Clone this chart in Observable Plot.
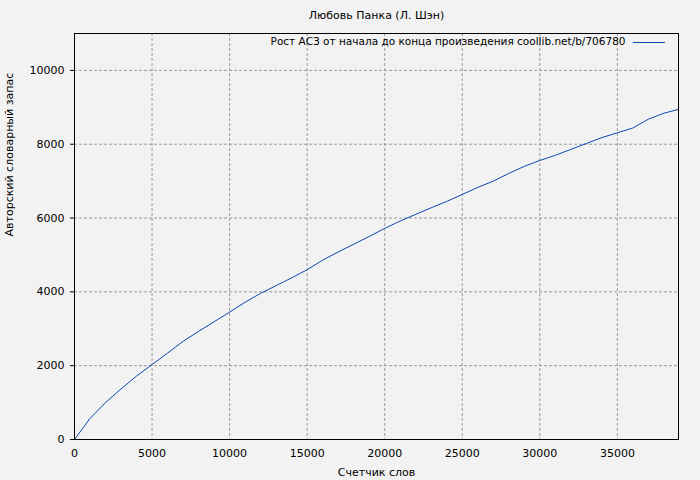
<!DOCTYPE html>
<html>
<head>
<meta charset="utf-8">
<script src="https://cdn.jsdelivr.net/npm/d3@7"></script>
<script src="https://cdn.jsdelivr.net/npm/@observablehq/plot@0.6"></script>
<style>
  html, body { margin: 0; padding: 0; background: #f2f2f2; }
</style>
</head>
<body>
<div id="chart"></div>
<script>
const title = "Любовь Панка (Л. Шэн)";
const seriesName = "Рост АСЗ от начала до конца произведения coollib.net/b/706780";
const xLabel = "Счетчик слов";
const yLabel = "Авторский словарный запас";

const words = [0, 1000, 2000, 3000, 4000, 5000, 6000, 7000, 8000, 9000, 10000,
  11000, 12000, 13000, 14000, 15000, 16000, 17000, 18000, 19000, 20000,
  21000, 22000, 23000, 24000, 25000, 26000, 27000, 28000, 29000, 30000,
  31000, 32000, 33000, 34000, 35000, 36000, 37000, 38000, 38900];
const vocab = [0, 570, 1000, 1370, 1720, 2030, 2340, 2660, 2930, 3190, 3450,
  3720, 3960, 4170, 4380, 4600, 4860, 5080, 5290, 5500, 5720,
  5920, 6100, 6280, 6450, 6640, 6830, 7000, 7210, 7400, 7560,
  7700, 7860, 8020, 8180, 8310, 8440, 8680, 8840, 8940];
const xTicks = [0, 5000, 10000, 15000, 20000, 25000, 30000, 35000];
const yTicks = [0, 2000, 4000, 6000, 8000, 10000];

const data = words.map((w, i) => ({x: w, y: vocab[i]}));
const lineColor = "#0d47b0";

const legendSwatch = (index, scales, values, dim) => {
  const g = d3.create("svg:g");
  const xr = dim.width - dim.marginRight;
  g.append("line")
    .attr("x1", xr - 45).attr("x2", xr - 13)
    .attr("y1", dim.marginTop + 9.5).attr("y2", dim.marginTop + 9.5)
    .attr("stroke", lineColor).attr("stroke-width", 1);
  return g.node();
};

const chart = Plot.plot({
  width: 700,
  height: 480,
  marginLeft: 74,
  marginRight: 22,
  marginTop: 33,
  marginBottom: 41,
  style: {background: "#f2f2f2", fontFamily: "DejaVu Sans", fontSize: "11px", color: "#000"},
  x: {domain: [0, 38940]},
  y: {domain: [0, 11000]},
  marks: [
    Plot.gridX(xTicks.filter(d => d > 0), {stroke: "#999", strokeOpacity: 1, strokeDasharray: "3,2"}),
    Plot.gridY(yTicks.filter(d => d > 0), {stroke: "#999", strokeOpacity: 1, strokeDasharray: "3,2"}),
    Plot.axisX(xTicks, {tickSize: 0, tickPadding: 10, label: null, fontSize: 11, tickFormat: d => String(d)}),
    Plot.axisY(yTicks, {tickSize: 4, tickPadding: 6, label: null, fontSize: 11, tickFormat: d => String(d)}),
    Plot.line(data, {x: "x", y: "y", stroke: lineColor, strokeWidth: 1}),
    Plot.frame({stroke: "#000", strokeWidth: 1}),
    Plot.text([title], {frameAnchor: "top", dy: -22, fontSize: 11}),
    Plot.text([seriesName], {frameAnchor: "top-right", dx: -53, dy: 4, textAnchor: "end", fontSize: 10.5}),
    Plot.text([xLabel], {frameAnchor: "bottom", dy: 36, fontSize: 11}),
    Plot.text([yLabel], {frameAnchor: "left", dx: -65, rotate: -90, fontSize: 11}),
    legendSwatch
  ]
});
document.getElementById("chart").append(chart);
</script>
</body>
</html>
